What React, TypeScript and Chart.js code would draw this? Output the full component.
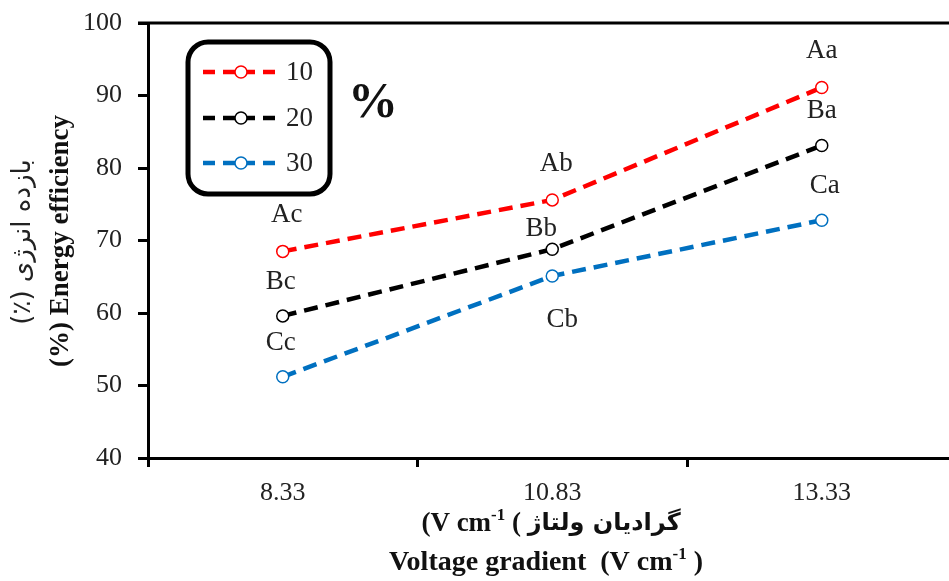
import React, { useEffect, useRef } from "react";
import { Chart, registerables } from "chart.js";

Chart.register(...registerables);

// ---------- data ----------
const categories = ["8.33", "10.83", "13.33"];
const seriesNames = ["10", "20", "30"];
const series10 = [68.5, 75.6, 91.1];
const series20 = [59.6, 68.8, 83.1];
const series30 = [51.2, 65.1, 72.8];
const letters10 = ["Ac", "Ab", "Aa"];
const letters20 = ["Bc", "Bb", "Ba"];
const letters30 = ["Cc", "Cb", "Ca"];
const yMin = 40;
const yMax = 100;
const yStep = 10;
const legendUnit = "%";
const yTitleFa = "بازده انرژی (٪)";
const yTitleEn = "(%) Energy efficiency";
const xTitleFaPersian = "گرادیان ولتاژ";
const xTitleEnMain = "Voltage gradient";

// ---------- styles ----------
const colors = ["#ff0000", "#000000", "#0070c0"];
const SERIF = "'Liberation Serif', 'Times New Roman', serif";
const labelOffsets = [
  [[4, -36], [4, -36], [0, -37]],
  [[-2, -34], [-11, -20], [0, -35]],
  [[-2, -34], [10, 44], [3, -34]],
];
const allLetters = [letters10, letters20, letters30];

type Seg = { t: string; sup?: boolean; font?: string };

function drawSegs(ctx: CanvasRenderingContext2D, segs: Seg[], cx: number, cy: number, baseFont: string, supFont: string) {
  ctx.save();
  (ctx as any).direction = "ltr";
  ctx.textBaseline = "middle";
  ctx.textAlign = "left";
  let total = 0;
  const widths = segs.map((s) => {
    ctx.font = s.font || (s.sup ? supFont : baseFont);
    const w = ctx.measureText(s.t).width;
    total += w;
    return w;
  });
  let x = cx - total / 2;
  segs.forEach((s, i) => {
    ctx.font = s.font || (s.sup ? supFont : baseFont);
    ctx.fillText(s.t, x, s.sup ? cy - 8 : cy);
    x += widths[i];
  });
  ctx.restore();
}

const decorPlugin = {
  id: "decor",
  afterDatasetsDraw(chart: any) {
    const ctx: CanvasRenderingContext2D = chart.ctx;
    ctx.save();
    ctx.fillStyle = "#222";
    ctx.font = `27px ${SERIF}`;
    ctx.textAlign = "center";
    ctx.textBaseline = "middle";
    chart.data.datasets.forEach((ds: any, di: number) => {
      const meta = chart.getDatasetMeta(di);
      meta.data.forEach((pt: any, i: number) => {
        const off = labelOffsets[di][i];
        ctx.fillText(allLetters[di][i], pt.x + off[0], pt.y + off[1]);
      });
    });
    ctx.restore();
  },
  afterDraw(chart: any) {
    const ctx: CanvasRenderingContext2D = chart.ctx;
    const area = chart.chartArea;
    ctx.save();
    // top frame line
    ctx.strokeStyle = "#000";
    ctx.lineWidth = 3;
    ctx.beginPath();
    ctx.moveTo(area.left - 10, area.top);
    ctx.lineTo(area.right, area.top);
    ctx.stroke();

    // legend box
    ctx.lineWidth = 5;
    ctx.beginPath();
    (ctx as any).roundRect(188, 42, 142, 152, 20);
    ctx.stroke();
    const rows = [72, 118, 163];
    chart.data.datasets.forEach((ds: any, di: number) => {
      const y = rows[di];
      ctx.strokeStyle = ds.borderColor;
      ctx.lineWidth = 4.5;
      ctx.setLineDash([12, 8]);
      ctx.beginPath();
      ctx.moveTo(203, y);
      ctx.lineTo(281, y);
      ctx.stroke();
      ctx.setLineDash([]);
      ctx.lineWidth = 1.5;
      ctx.fillStyle = "#fff";
      ctx.beginPath();
      ctx.arc(241, y, 6, 0, Math.PI * 2);
      ctx.fill();
      ctx.stroke();
      ctx.fillStyle = "#222";
      ctx.font = `27px ${SERIF}`;
      ctx.textAlign = "left";
      ctx.textBaseline = "middle";
      ctx.fillText(ds.label, 286, y + 1);
    });
    ctx.fillStyle = "#111";
    ctx.font = `bold 50px ${SERIF}`;
    ctx.textAlign = "left";
    ctx.textBaseline = "middle";
    ctx.fillText(legendUnit, 348, 104);

    // y titles
    ctx.save();
    ctx.translate(61, 241);
    ctx.rotate(-Math.PI / 2);
    ctx.fillStyle = "#111";
    ctx.textAlign = "center";
    ctx.textBaseline = "middle";
    ctx.font = `bold 27px ${SERIF}`;
    ctx.fillText(yTitleEn, 0, 0);
    ctx.restore();

    ctx.save();
    ctx.translate(23, 242);
    ctx.rotate(-Math.PI / 2);
    ctx.fillStyle = "#222";
    ctx.textAlign = "center";
    ctx.textBaseline = "middle";
    (ctx as any).direction = "rtl";
    ctx.font = `26px 'DejaVu Sans', sans-serif`;
    ctx.fillText(yTitleFa, 0, 0);
    ctx.restore();

    // x titles
    ctx.fillStyle = "#111";
    drawSegs(
      ctx,
      [
        { t: "(V cm" },
        { t: "-1", sup: true },
        { t: " (" },
        { t: " " },
        { t: xTitleFaPersian, font: `bold 24px 'DejaVu Sans', sans-serif` },
      ],
      551,
      524,
      `bold 27px ${SERIF}`,
      `bold 17px ${SERIF}`
    );
    drawSegs(
      ctx,
      [{ t: xTitleEnMain + "  (V cm" }, { t: "-1", sup: true }, { t: " )" }],
      546,
      563,
      `bold 28px ${SERIF}`,
      `bold 17px ${SERIF}`
    );
    ctx.restore();
  },
};

export default function App() {
  const ref = useRef<HTMLCanvasElement | null>(null);
  useEffect(() => {
    if (!ref.current) return;
    const seriesData = [series10, series20, series30];
    const chart = new Chart(ref.current, {
      type: "line",
      data: {
        labels: categories,
        datasets: seriesData.map((d, i) => ({
          label: seriesNames[i],
          data: d,
          borderColor: colors[i],
          backgroundColor: colors[i],
          borderWidth: 4.5,
          borderDash: [14, 8],
          pointRadius: 6,
          pointBorderWidth: 1.5,
          pointBorderColor: colors[i],
          pointBackgroundColor: "#fff",
          tension: 0,
          fill: false,
        })),
      },
      options: {
        animation: false,
        responsive: false,
        maintainAspectRatio: false,
        layout: { padding: { top: 23, left: 0, right: 0, bottom: 0 } },
        plugins: { legend: { display: false }, tooltip: { enabled: false } },
        scales: {
          x: {
            type: "category",
            offset: true,
            grid: {
              offset: true,
              drawOnChartArea: false,
              drawTicks: true,
              tickLength: 9,
              tickWidth: 3,
              tickColor: "#000",
            },
            border: { display: true, color: "#000", width: 3 },
            ticks: { font: { family: SERIF, size: 26 }, color: "#222", padding: 11 },
            afterFit: (s: any) => {
              s.height = 123;
              s.paddingLeft = 0;
              s.paddingRight = 0;
            },
          },
          y: {
            min: yMin,
            max: yMax,
            ticks: { stepSize: yStep, font: { family: SERIF, size: 26 }, color: "#222", padding: 16 },
            grid: {
              drawOnChartArea: false,
              drawTicks: true,
              tickLength: 10,
              tickWidth: 3,
              tickColor: "#000",
            },
            border: { display: true, color: "#000", width: 3 },
            afterFit: (s: any) => {
              s.width = 148;
              s.paddingTop = 0;
              s.paddingBottom = 0;
            },
          },
        },
      } as any,
      plugins: [decorPlugin],
    });
    return () => chart.destroy();
  }, []);
  return (
    <div
      style={{
        position: "fixed",
        left: 0,
        top: 0,
        width: 949,
        height: 581,
        overflow: "hidden",
        background: "#fff",
      }}
    >
      <canvas ref={ref} width={964} height={581} style={{ width: 964, height: 581, display: "block" }} />
    </div>
  );
}
